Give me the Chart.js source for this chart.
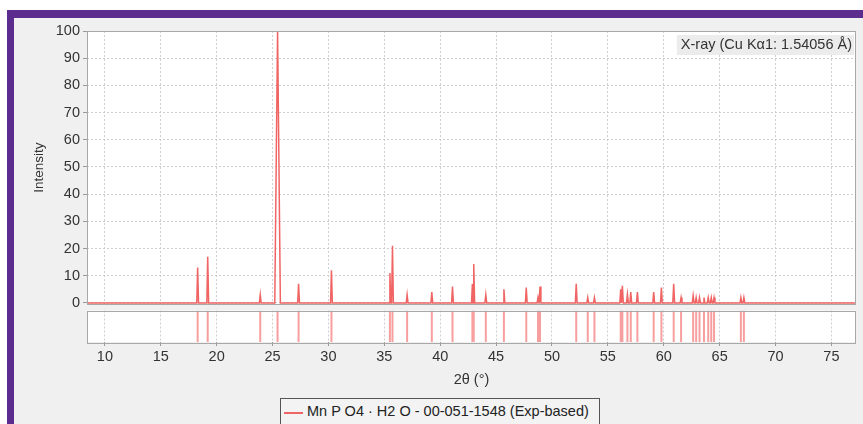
<!DOCTYPE html>
<html>
<head>
<meta charset="utf-8">
<script src="https://cdn.jsdelivr.net/npm/chart.js@4"></script>
<style>
  body { margin: 0; background: #fff; width: 863px; height: 424px; overflow: hidden; position: relative; font-family: "Liberation Sans", Arial, sans-serif; }
  #frame { position: absolute; left: 7px; top: 10px; right: 0; bottom: 0; border-left: 7px solid #5c2d8f; border-top: 8px solid #5c2d8f; background: #f0f0f0; }
  #main { position: absolute; left: 14px; top: 18px; }
  #ticks { position: absolute; left: 14px; top: 305px; }
  #legend { position: absolute; left: 280px; top: 398px; width: 318px; height: 30px; border: 1px solid #555; background: #f3f3f3; font-size: 14.5px; color: #222; }
  #legend span.swatch { position: absolute; left: 3px; top: 13px; width: 19px; height: 2px; background: rgb(240,100,100); }
  #legend span.label { position: absolute; left: 26px; top: 4px; white-space: nowrap; }
</style>
</head>
<body>
<div id="frame"></div>
<canvas id="main" width="849" height="298"></canvas>
<canvas id="ticks" width="849" height="90"></canvas>
<div id="legend"><span class="swatch"></span><span class="label">Mn P O4 · H2 O - 00-051-1548 (Exp-based)</span></div>
<script>
var peakPos = [18.3, 19.2, 23.9, 25.45, 27.33, 30.27, 35.5, 35.73, 37.04, 39.25, 41.1, 42.88, 43.0, 44.08, 45.7, 47.7, 48.75, 48.93,
  52.17, 53.2, 53.8, 56.15, 56.3, 56.75, 57.05, 57.64, 59.1, 59.79, 60.89, 61.55, 62.63, 62.9, 63.2, 63.6, 63.98, 64.25, 64.5, 66.9, 67.17];
var peakInt = [13, 17, 3, 100, 7, 12, 11, 21, 3, 4, 6, 7, 14.3, 3, 5, 5.7, 2, 6,
  7, 2, 2, 5, 6.3, 3.2, 4, 4, 4, 5.7, 7, 2, 2.7, 2, 2, 2, 2, 2, 2, 2, 2];
var xMin = 8.4, xMax = 77.2;
var xTicks = [10, 15, 20, 25, 30, 35, 40, 45, 50, 55, 60, 65, 70, 75];
var yTicks = [0, 10, 20, 30, 40, 50, 60, 70, 80, 90, 100];
var seriesName = "Mn P O4 · H2 O - 00-051-1548 (Exp-based)";
var sourceNote = "X-ray (Cu Kα1: 1.54056 Å)";

var lineColor = 'rgb(240,100,100)';
var gridColor = '#cfcfcf';
var fontSpec = { family: '"Liberation Sans", Arial, sans-serif', size: 14.5 };

// profile: baseline, each peak as a narrow spike
var profile = [{ x: xMin, y: 0 }];
peakPos.forEach(function (p, i) {
    var hw = peakInt[i] > 50 ? 0.25 : 0.08;
    profile.push({ x: p - hw, y: 0 });
    profile.push({ x: p, y: peakInt[i] });
    profile.push({ x: p + hw, y: 0 });
});
profile.push({ x: xMax, y: 0 });
profile.sort(function (a, b) { return a.x - b.x; });

// reference markers in the lower panel
var sticks = [];
peakPos.forEach(function (p) {
    sticks.push({ x: p, y: 0 });
    sticks.push({ x: p, y: 1 });
    sticks.push({ x: p, y: null });
});

var framePlugin = {
    id: 'frame',
    beforeDraw: function (chart) {
        var a = chart.chartArea, ctx = chart.ctx;
        ctx.save();
        ctx.fillStyle = '#fff';
        ctx.fillRect(a.left, a.top, a.right - a.left, a.bottom - a.top);
        ctx.restore();
    },
    afterDraw: function (chart) {
        var a = chart.chartArea, ctx = chart.ctx;
        ctx.save();
        ctx.strokeStyle = '#a8a8a8';
        ctx.lineWidth = 1;
        ctx.strokeRect(Math.round(a.left) + 0.5, Math.round(a.top) + 0.5, Math.round(a.right - a.left) - 1, Math.round(a.bottom - a.top));
        ctx.restore();
    }
};

var notePlugin = {
    id: 'note',
    afterDraw: function (chart) {
        var a = chart.chartArea, ctx = chart.ctx;
        ctx.save();
        ctx.font = '14.5px "Liberation Sans", Arial, sans-serif';
        var w = ctx.measureText(sourceNote).width;
        ctx.fillStyle = '#ececec';
        ctx.fillRect(a.right - w - 8, a.top + 4, w + 6, 20);
        ctx.fillStyle = '#333';
        ctx.textAlign = 'right';
        ctx.textBaseline = 'middle';
        ctx.fillText(sourceNote, a.right - 4, a.top + 14);
        ctx.restore();
    }
};

function fixWidth(scale) { scale.width = 73; }

new Chart(document.getElementById('main'), {
    type: 'line',
    data: {
        datasets: [{
            label: seriesName,
            data: profile,
            borderColor: lineColor,
            borderWidth: 1.5,
            pointRadius: 0,
            tension: 0
        }]
    },
    options: {
        responsive: false,
        animation: false,
        layout: { padding: { top: 13, right: 7, bottom: 0, left: 0 } },
        plugins: { legend: { display: false }, tooltip: { enabled: false } },
        scales: {
            x: {
                type: 'linear', min: xMin, max: xMax,
                afterBuildTicks: function (s) { s.ticks = xTicks.map(function (v) { return { value: v }; }); },
                ticks: { display: false },
                grid: { color: gridColor, borderDash: [2, 2], drawTicks: false },
                border: { display: false, dash: [2, 2] }
            },
            y: {
                min: -0.5, max: 100,
                afterBuildTicks: function (s) { s.ticks = yTicks.map(function (v) { return { value: v }; }); },
                afterFit: fixWidth,
                ticks: { color: '#333', font: fontSpec, padding: 3 },
                grid: { color: gridColor, borderDash: [2, 2], tickLength: 4, tickColor: '#999' },
                border: { display: false, dash: [2, 2] },
                title: { display: true, text: 'Intensity', color: '#333', font: { family: fontSpec.family, size: 13.5 }, padding: { top: 17, bottom: 0 } }
            }
        }
    },
    plugins: [framePlugin, notePlugin]
});

new Chart(document.getElementById('ticks'), {
    type: 'line',
    data: {
        datasets: [{
            label: seriesName,
            data: sticks,
            borderColor: 'rgba(240,80,80,0.55)',
            borderWidth: 2,
            pointRadius: 0,
            spanGaps: false
        }]
    },
    options: {
        responsive: false,
        animation: false,
        layout: { padding: { top: 5.5, right: 7, bottom: 0, left: 0 } },
        plugins: { legend: { display: false }, tooltip: { enabled: false } },
        scales: {
            x: {
                type: 'linear', min: xMin, max: xMax,
                afterBuildTicks: function (s) { s.ticks = xTicks.map(function (v) { return { value: v }; }); },
                afterFit: function (s) { s.height = 53; },
                ticks: { color: '#333', font: fontSpec, padding: 2, maxRotation: 0 },
                grid: { color: gridColor, borderDash: [2, 2], tickLength: 4, tickColor: '#999' },
                border: { display: false, dash: [2, 2] },
                title: { display: true, text: '2θ (°)', color: '#333', font: fontSpec, padding: { top: 0, bottom: 6 } }
            },
            y: {
                min: 0, max: 1,
                afterFit: fixWidth,
                ticks: { display: false },
                grid: { display: false },
                border: { display: false }
            }
        }
    },
    plugins: [framePlugin]
});
</script>
</body>
</html>
